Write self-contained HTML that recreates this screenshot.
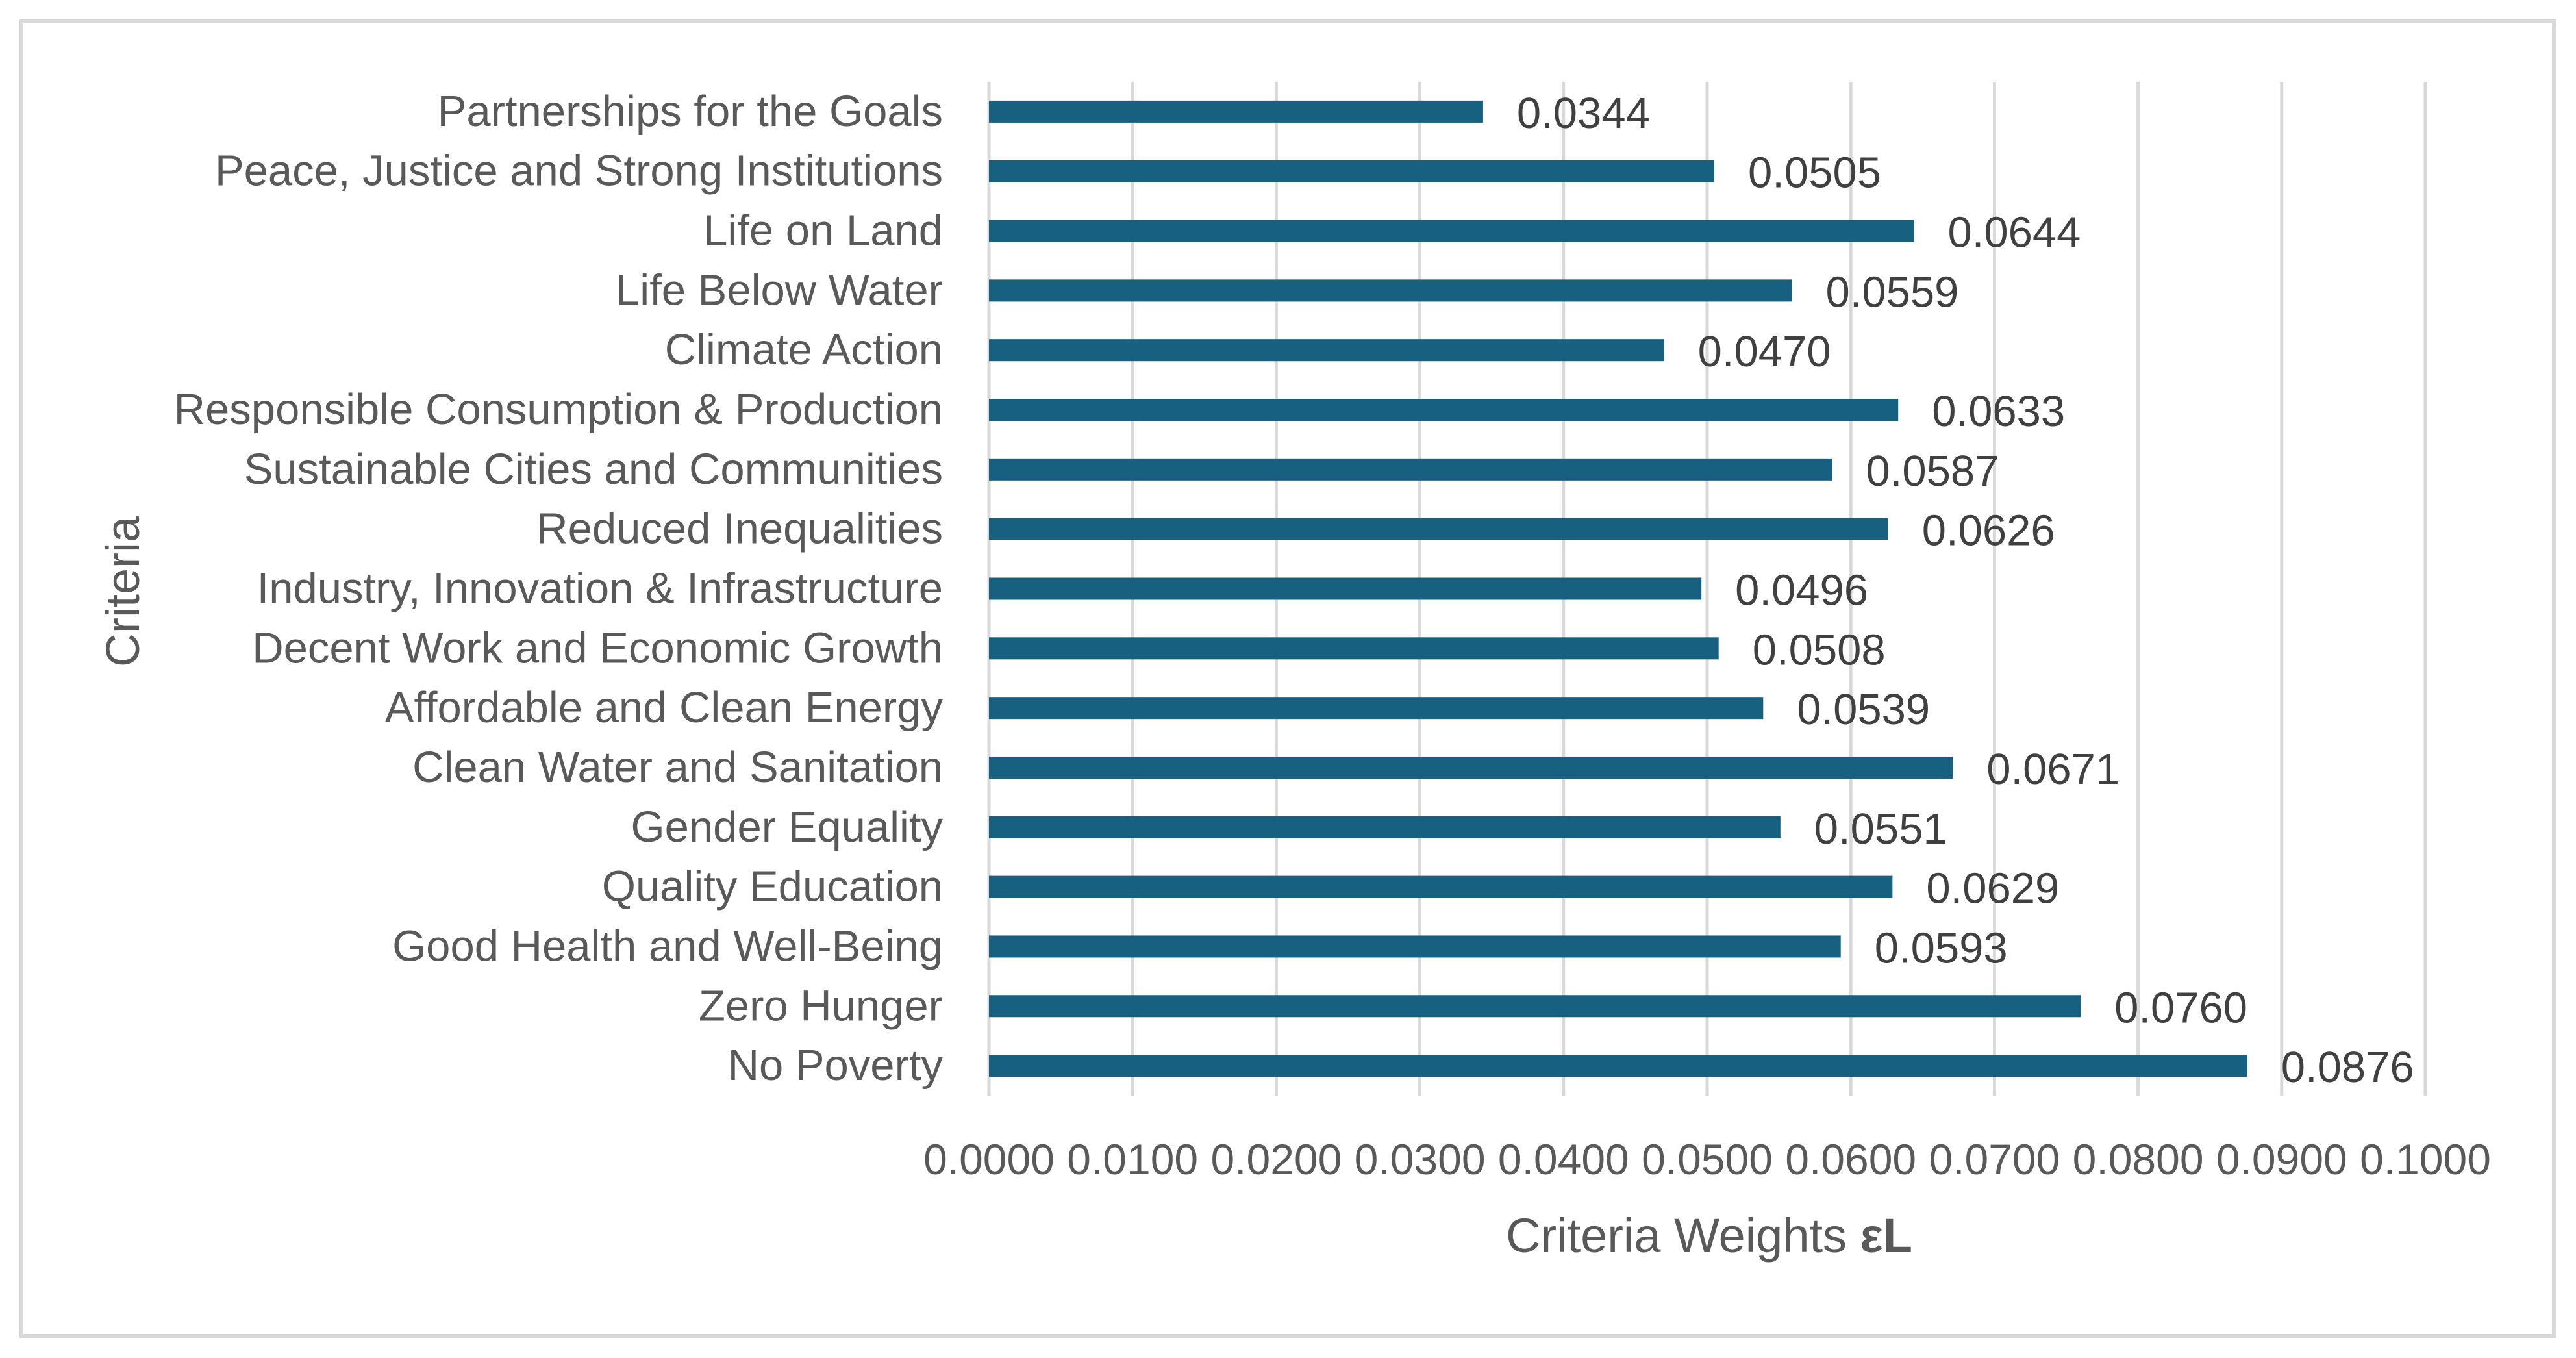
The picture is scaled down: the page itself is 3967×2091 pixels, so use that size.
<!DOCTYPE html>
<html><head><meta charset="utf-8"><style>
html,body{margin:0;padding:0;background:#fff}
svg{display:block}
text{font-family:"Liberation Sans",sans-serif}
</style></head><body>
<svg id="chart" width="3967" height="2091" viewBox="0 0 3967 2091" xmlns="http://www.w3.org/2000/svg">
<rect x="33" y="33" width="3900" height="2024" fill="#fff" stroke="#d9d9d9" stroke-width="6"/>
<g id="grid"></g><g id="bars"></g><g id="labels"></g>
<text transform="translate(214,911) rotate(-90)" text-anchor="middle" font-size="72" fill="#595959">Criteria</text>
<text x="2632" y="1928" text-anchor="middle" font-size="74" fill="#595959">Criteria Weights <tspan font-weight="bold">εL</tspan></text>
</svg>
<script>
const categories = ["Partnerships for the Goals","Peace, Justice and Strong Institutions","Life on Land","Life Below Water","Climate Action","Responsible Consumption & Production","Sustainable Cities and Communities","Reduced Inequalities","Industry, Innovation & Infrastructure","Decent Work and Economic Growth","Affordable and Clean Energy","Clean Water and Sanitation","Gender Equality","Quality Education","Good Health and Well-Being","Zero Hunger","No Poverty"];
const values = [0.0344,0.0505,0.0644,0.0559,0.0470,0.0633,0.0587,0.0626,0.0496,0.0508,0.0539,0.0671,0.0551,0.0629,0.0593,0.0760,0.0876];
const ticks = [0,0.01,0.02,0.03,0.04,0.05,0.06,0.07,0.08,0.09,0.1];
const NS="http://www.w3.org/2000/svg";
const x0=1523,x1=3735,plotTop=126,plotBottom=1687,xMax=0.1;
const xs=v=>x0+(v/xMax)*(x1-x0);
const band=(plotBottom-plotTop)/categories.length;
const yc=i=>plotTop+band*(i+0.5);
const grid=document.getElementById('grid'),bars=document.getElementById('bars'),labels=document.getElementById('labels');
function mk(tag,attrs,parent){const e=document.createElementNS(NS,tag);for(const k in attrs)e.setAttribute(k,attrs[k]);parent.appendChild(e);return e;}
ticks.forEach(t=>{
  const l=mk('line',{x1:xs(t),x2:xs(t),y1:plotTop,y2:plotBottom,stroke:'#d9d9d9','stroke-width':5},grid);
  
  
  const tx=mk('text',{x:xs(t),y:1808,'text-anchor':'middle','font-size':66,fill:'#595959'},labels);
  tx.textContent=t.toFixed(4);
  
  
});
categories.forEach((c,i)=>{
  const y=yc(i),h=34;
  const r=mk('rect',{x:x0,y:y-h/2,width:xs(values[i])-x0,height:h,fill:'#17607f'},bars);
  
  
  const cl=mk('text',{x:1452,y:y+22,'text-anchor':'end','font-size':67,fill:'#595959'},labels);
  cl.textContent=c;
  
  
  const vl=mk('text',{x:xs(values[i])+52,y:y+25,'font-size':67,fill:'#404040'},labels);
  vl.textContent=values[i].toFixed(4);
  
  
});
</script>
</body></html>
